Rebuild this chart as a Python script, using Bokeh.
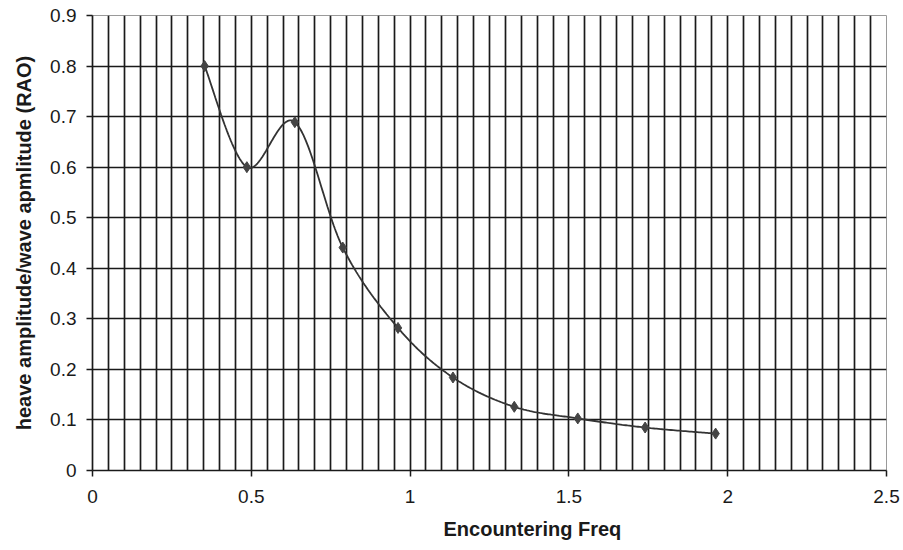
import numpy as np
from bokeh.plotting import figure
from bokeh.models import FixedTicker, Range1d, Title
from bokeh.embed import file_html
from bokeh.resources import INLINE

# Data
freq = [0.353, 0.486, 0.637, 0.788, 0.962, 1.135, 1.328, 1.528, 1.740, 1.962]
rao = [0.800, 0.600, 0.689, 0.441, 0.282, 0.184, 0.126, 0.103, 0.085, 0.073]

x_ticks = [0, 0.5, 1, 1.5, 2, 2.5]
y_ticks = [0, 0.1, 0.2, 0.3, 0.4, 0.5, 0.6, 0.7, 0.8, 0.9]
x_label = "Encountering Freq"
y_label = "heave amplitude/wave apmlitude (RAO)"


def smooth(xs, ys, n=40):
    """Excel-like smoothed line (Catmull-Rom as cubic Bezier)."""
    P = np.column_stack([xs, ys]).astype(float)
    P = np.vstack([P[0], P, P[-1]])
    out = []
    t = np.linspace(0, 1, n)[:, None]
    for i in range(1, len(P) - 2):
        p0, p1, p2, p3 = P[i - 1], P[i], P[i + 1], P[i + 2]
        c1 = p1 + (p2 - p0) / 6.0
        c2 = p2 - (p3 - p1) / 6.0
        seg = (1 - t) ** 3 * p1 + 3 * (1 - t) ** 2 * t * c1 + 3 * (1 - t) * t ** 2 * c2 + t ** 3 * p2
        out.append(seg if i == 1 else seg[1:])
    S = np.vstack(out)
    return S[:, 0], S[:, 1]


FONT = "Liberation Sans"

p = figure(width=900, height=550, output_backend="svg", toolbar_location=None,
           x_range=Range1d(0, 2.5), y_range=Range1d(0, 0.9),
           min_border_left=92, min_border_right=14, min_border_top=15, min_border_bottom=80)

p.background_fill_color = "white"
p.border_fill_color = "white"
p.outline_line_color = "#9a9a9a"
p.outline_line_width = 1

# grids
p.xgrid.ticker = FixedTicker(ticks=[round(0.05 * i, 2) for i in range(1, 50)])
p.ygrid.ticker = FixedTicker(ticks=y_ticks)
for g in (p.xgrid, p.ygrid):
    g.grid_line_color = "#1a1a1a"
    g.grid_line_width = 1.7
    g.grid_line_alpha = 1.0

# axes
p.xaxis.ticker = FixedTicker(ticks=x_ticks)
p.yaxis.ticker = FixedTicker(ticks=y_ticks)
for ax in (p.xaxis, p.yaxis):
    ax.axis_line_color = "#1a1a1a"
    ax.axis_line_width = 1.7
    ax.major_tick_line_color = "#1a1a1a"
    ax.major_tick_line_width = 1.5
    ax.major_tick_out = 6
    ax.major_tick_in = 0
    ax.minor_tick_line_color = None
    ax.major_label_text_font = FONT
    ax.major_label_text_font_size = "19px"
    ax.major_label_text_color = "#1a1a1a"

p.xaxis.major_label_standoff = 13
p.yaxis.major_label_standoff = 10
p.xaxis.major_label_overrides = {0: "0", 1: "1", 2: "2"}
p.yaxis.major_label_overrides = {0: "0"}

p.yaxis.axis_label = y_label
p.yaxis.axis_label_text_font = FONT
p.yaxis.axis_label_text_font_size = "20px"
p.yaxis.axis_label_text_font_style = "bold"
p.yaxis.axis_label_text_color = "#1a1a1a"
p.yaxis.axis_label_standoff = 12

xt = Title(text=x_label, align="left", offset=351, text_font=FONT,
           text_font_size="20px", text_font_style="bold", text_color="#1a1a1a",
           standoff=20)
p.add_layout(xt, "below")

sx, sy = smooth(freq, rao)
p.line(sx, sy, line_color="#333333", line_width=1.8)
p.scatter(freq, rao, marker="diamond", size=11, fill_color="#444444", line_color="#444444")

open("out.html", "w").write(file_html(p, INLINE))
